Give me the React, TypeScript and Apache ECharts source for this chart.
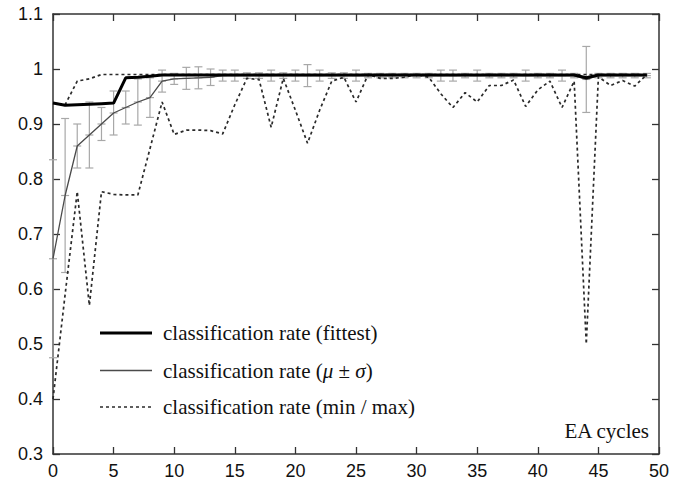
import React, { useEffect, useRef } from "react";
import * as echarts from "echarts";

// EA cycles 0..49
const fittest = [
  0.938, 0.934, 0.935, 0.936, 0.937, 0.938, 0.984, 0.985, 0.987, 0.989,
  0.989, 0.989, 0.989, 0.989, 0.989, 0.989, 0.989, 0.989, 0.989, 0.989,
  0.989, 0.989, 0.989, 0.989, 0.989, 0.989, 0.989, 0.989, 0.989, 0.989,
  0.989, 0.989, 0.989, 0.989, 0.989, 0.989, 0.989, 0.989, 0.989, 0.989,
  0.989, 0.989, 0.989, 0.989, 0.984, 0.989, 0.989, 0.989, 0.989, 0.989,
];
const meanRate = [
  0.655, 0.77, 0.86, 0.88, 0.9, 0.92, 0.93, 0.94, 0.948, 0.978,
  0.982, 0.983, 0.984, 0.985, 0.988, 0.988, 0.988, 0.988, 0.988, 0.988,
  0.988, 0.988, 0.988, 0.988, 0.988, 0.988, 0.988, 0.988, 0.988, 0.988,
  0.988, 0.988, 0.988, 0.988, 0.988, 0.988, 0.988, 0.988, 0.988, 0.988,
  0.988, 0.988, 0.988, 0.988, 0.981, 0.988, 0.988, 0.988, 0.988, 0.988,
];
const sigmaRate = [
  0.18, 0.14, 0.04, 0.06, 0.03, 0.04, 0.03, 0.042, 0.036, 0.02,
  0.01, 0.02, 0.02, 0.015, 0.01, 0.01, 0.005, 0.005, 0.01, 0.005,
  0.01, 0.02, 0.01, 0.005, 0.005, 0.01, 0.004, 0.004, 0.004, 0.004,
  0.004, 0.004, 0.01, 0.01, 0.004, 0.01, 0.004, 0.004, 0.004, 0.01,
  0.004, 0.004, 0.01, 0.004, 0.06, 0.004, 0.004, 0.004, 0.004, 0.004,
];
const maxRate = [
  0.938, 0.935, 0.978, 0.982, 0.99, 0.99, 0.99, 0.99, 0.99, 0.99,
  0.99, 0.99, 0.99, 0.99, 0.99, 0.99, 0.99, 0.99, 0.99, 0.99,
  0.99, 0.99, 0.99, 0.99, 0.99, 0.99, 0.99, 0.99, 0.99, 0.99,
  0.99, 0.99, 0.99, 0.99, 0.99, 0.99, 0.99, 0.99, 0.99, 0.99,
  0.99, 0.99, 0.99, 0.99, 0.99, 0.99, 0.99, 0.99, 0.99, 0.99,
];
const minRate = [
  0.4, 0.59, 0.777, 0.57, 0.777, 0.772, 0.771, 0.771, 0.855, 0.94,
  0.881, 0.889, 0.889, 0.888, 0.882, 0.935, 0.983, 0.981, 0.894, 0.983,
  0.925, 0.865, 0.925, 0.978, 0.985, 0.94, 0.99, 0.983, 0.983, 0.985,
  0.99, 0.985, 0.955, 0.93, 0.957, 0.94, 0.97, 0.97, 0.98, 0.932,
  0.962, 0.978, 0.93, 0.978, 0.5, 0.986, 0.97, 0.979, 0.969, 0.99,
];

const legendLabels = [
  "classification rate (fittest)",
  "classification rate ({i|μ} ± {i|σ})",
  "classification rate (min / max)",
];
const xTitle = "EA cycles";

const SERIF = "'Liberation Serif', 'Times New Roman', serif";
const SANS = "'Liberation Sans', Arial, sans-serif";
const AXIS_COLOR = "#333";

export default function App() {
  const ref = useRef<HTMLDivElement>(null);
  useEffect(() => {
    if (!ref.current) return;
    const chart = echarts.init(ref.current, undefined, { renderer: "svg" });
    const pairs = (arr: number[]) => arr.map((v, i) => [i, v]);
    const errData = meanRate.map((m, i) => [i, m - sigmaRate[i], m + sigmaRate[i], m]);

    const axisCommon = {
      axisLine: { show: true, onZero: false, lineStyle: { color: AXIS_COLOR, width: 1.5 } },
      axisTick: { show: true, inside: true, length: 7, lineStyle: { color: AXIS_COLOR, width: 1.3 } },
      splitLine: { show: false },
    };

    const grid = { left: 53, right: 26, top: 14, bottom: 28 };
    const lx1 = 100, lx2 = 152, tx = 163;
    const rows = [333, 370.5, 407];
    const LEG_FS = 21;

    chart.setOption({
      animation: false,
      backgroundColor: "#fff",
      grid,
      xAxis: [
        {
          type: "value", min: 0, max: 50, interval: 5, position: "bottom",
          ...axisCommon,
          axisLabel: { fontSize: 18, fontFamily: SANS, color: "#111", margin: 8 },
        },
        {
          type: "value", min: 0, max: 50, interval: 5, position: "top",
          ...axisCommon,
          axisLabel: { show: false },
        },
      ],
      yAxis: [
        {
          type: "value", min: 0.3, max: 1.1, interval: 0.1, position: "left",
          ...axisCommon,
          axisLabel: { fontSize: 18, fontFamily: SANS, color: "#111", margin: 10 },
        },
        {
          type: "value", min: 0.3, max: 1.1, interval: 0.1, position: "right",
          ...axisCommon,
          axisLabel: { show: false },
        },
      ],
      series: [
        {
          type: "custom",
          name: "sigma",
          data: errData,
          encode: { x: 0, y: [1, 2] },
          z: 1,
          clip: false,
          renderItem: (_params: any, api: any) => {
            const x = api.value(0);
            const lo = api.coord([x, api.value(1)]);
            const hi = api.coord([x, api.value(2)]);
            const md = api.coord([x, api.value(3)]);
            const w = 4;
            const style = { stroke: "#a8a8a8", lineWidth: 1.2, fill: "none" };
            return {
              type: "group",
              children: [
                { type: "line", shape: { x1: lo[0], y1: lo[1], x2: hi[0], y2: hi[1] }, style },
                { type: "line", shape: { x1: lo[0] - w, y1: lo[1], x2: lo[0] + w, y2: lo[1] }, style },
                { type: "line", shape: { x1: hi[0] - w, y1: hi[1], x2: hi[0] + w, y2: hi[1] }, style },
                { type: "line", shape: { x1: md[0] - w, y1: md[1], x2: md[0] + w, y2: md[1] }, style },
              ],
            };
          },
        },
        {
          type: "line", name: "min", data: pairs(minRate), symbol: "none", z: 2,
          lineStyle: { color: "#2a2a2a", width: 1.7, type: [3, 3] },
        },
        {
          type: "line", name: "max", data: pairs(maxRate), symbol: "none", z: 2,
          lineStyle: { color: "#2a2a2a", width: 1.7, type: [3, 3] },
        },
        {
          type: "line", name: "mean", data: pairs(meanRate), symbol: "none", z: 3,
          lineStyle: { color: "#4a4a4a", width: 1.3 },
        },
        {
          type: "line", name: "fittest", data: pairs(fittest), symbol: "none", z: 4,
          lineStyle: { color: "#000", width: 3 },
        },
      ],
      graphic: [
        { type: "line", shape: { x1: lx1, y1: rows[0], x2: lx2, y2: rows[0] }, style: { stroke: "#000", lineWidth: 3 } },
        { type: "line", shape: { x1: lx1, y1: rows[1], x2: lx2, y2: rows[1] }, style: { stroke: "#4a4a4a", lineWidth: 1.3 } },
        { type: "line", shape: { x1: lx1, y1: rows[2], x2: lx2, y2: rows[2] }, style: { stroke: "#2a2a2a", lineWidth: 1.7, lineDash: [3, 3] } },
        ...legendLabels.map((t, k) => ({
          type: "text",
          x: tx,
          y: rows[k],
          style: {
            text: t,
            fontSize: LEG_FS,
            fontFamily: SERIF,
            fill: "#111",
            verticalAlign: "middle",
            textAlign: "left",
            rich: { i: { fontStyle: "italic", fontSize: LEG_FS, fontFamily: SERIF, fill: "#111" } },
          },
        })),
        {
          type: "text",
          x: 649,
          y: 431,
          style: {
            text: xTitle,
            fontSize: 21,
            fontFamily: SERIF,
            fill: "#111",
            textAlign: "right",
            verticalAlign: "middle",
          },
        },
      ],
    });
    return () => chart.dispose();
  }, []);
  return (
    <div
      ref={ref}
      style={{ position: "fixed", left: 0, top: 0, width: 685, height: 482, background: "#fff" }}
    />
  );
}
